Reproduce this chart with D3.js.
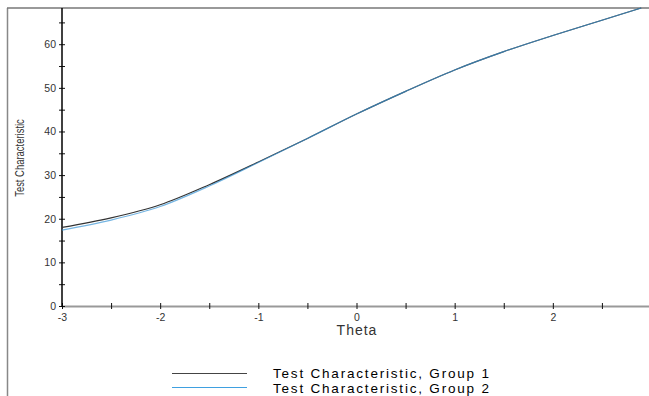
<!DOCTYPE html>
<html><head><meta charset="utf-8">
<script src="https://cdn.jsdelivr.net/npm/d3@7"></script>
<style>body{margin:0;background:#fff}svg{display:block}text{font-family:Arial,"Liberation Sans",sans-serif}</style>
</head><body><svg id="c" width="649" height="396"></svg>
<script>
const theta = [-3, -2.5, -2, -1.5, -1, -0.5, 0, 0.5, 1, 1.5, 2, 2.5, 2.9];
const group1 = [18.0, 20.2, 23.2, 27.8, 33.0, 38.4, 44.0, 49.2, 54.1, 58.3, 62.0, 65.5, 68.3];
const group2 = [17.4, 19.7, 22.8, 27.5, 32.9, 38.4, 44.0, 49.2, 54.1, 58.3, 62.0, 65.5, 68.3];
const xTicks = [-3, -2, -1, 0, 1, 2];
const yTicks = [0, 10, 20, 30, 40, 50, 60];
const seriesNames = ["Test Characteristic, Group 1", "Test Characteristic, Group 2"];

const svg = d3.select("#c");
const x = d3.scaleLinear().domain([-3, 3]).range([62, 651]);
const y = d3.scaleLinear().domain([0, 68.3]).range([306, 8]);

// frame
svg.append("line").attr("x1", 7.5).attr("x2", 7.5).attr("y1", 8).attr("y2", 396).attr("stroke", "#888").attr("stroke-width", 1.5);
svg.append("line").attr("x1", 7).attr("x2", 649).attr("y1", 8).attr("y2", 8).attr("stroke", "#777").attr("stroke-width", 1.5);

// x axis
svg.append("line").attr("x1", 62).attr("x2", 649).attr("y1", 306.5).attr("y2", 306.5).attr("stroke", "#999").attr("stroke-width", 2);
const xg = svg.append("g").attr("transform", "translate(0,303)")
  .call(d3.axisBottom(x).tickValues(d3.range(-3, 3.01, 0.5)).tickSize(6).tickFormat(d => xTicks.includes(d) ? d : ""));
xg.select(".domain").remove();
xg.selectAll(".tick line").attr("stroke", "#111");
xg.selectAll(".tick text").attr("font-size", 10.5).attr("fill", "#333").attr("y", 11).text(d => xTicks.includes(d) ? String(d) : "");

// y axis
const yg = svg.append("g").attr("transform", "translate(65,0)")
  .call(d3.axisLeft(y).tickValues(d3.range(0, 66, 5)).tickSize(6).tickFormat(d => yTicks.includes(d) ? d : ""));
yg.select(".domain").remove();
yg.selectAll(".tick line").attr("stroke", "#111");
yg.selectAll(".tick text").attr("font-size", 10.5).attr("fill", "#333").attr("x", -9);
svg.append("line").attr("x1", 62).attr("x2", 62).attr("y1", 8).attr("y2", 307).attr("stroke", "#000").attr("stroke-width", 1.5);

// axis titles
svg.append("text").attr("x", 357).attr("y", 335).attr("text-anchor", "middle").attr("font-size", 14).attr("letter-spacing", 1).attr("fill", "#333").text("Theta");
svg.append("text").attr("transform", "translate(24,158) rotate(-90) scale(0.7,1)").attr("text-anchor", "middle").attr("font-size", 13.5).attr("fill", "#333").text("Test Characteristic");

// lines
const line = d3.line().x((d, i) => x(theta[i])).y(d => y(d)).curve(d3.curveMonotoneX);
svg.append("path").datum(group1).attr("d", line).attr("fill", "none").attr("stroke", "#333").attr("stroke-width", 1.2);
svg.append("path").datum(group2).attr("d", line).attr("fill", "none").attr("stroke", "#3b96d6").attr("stroke-width", 1.2).attr("stroke-opacity", 0.7);

// legend
const colors = ["#444", "#3fa0e0"];
seriesNames.forEach((n, i) => {
  const ly = 373.5 + i * 14;
  svg.append("line").attr("x1", 172).attr("x2", 247).attr("y1", ly).attr("y2", ly).attr("stroke", colors[i]).attr("stroke-width", 1);
  svg.append("text").attr("x", 273).attr("y", 378 + i * 15).attr("font-size", 13.5).attr("letter-spacing", 1.8).attr("fill", "#000").text(n);
});
</script></body></html>
